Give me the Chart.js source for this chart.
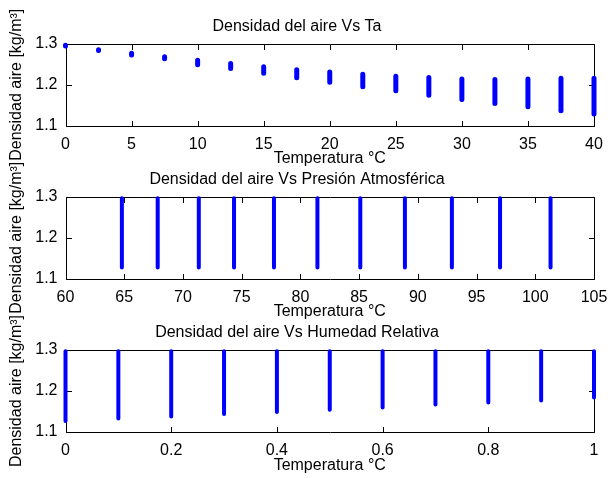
<!DOCTYPE html>
<html>
<head>
<meta charset="utf-8">
<title>Densidad del aire</title>
<script src="https://cdn.jsdelivr.net/npm/chart.js@4.4.1/dist/chart.umd.min.js"></script>
<style>
  body { margin: 0; background: #fff; }
  #wrap { position: relative; width: 610px; height: 478px; }
  #wrap canvas { position: absolute; left: 0; top: 0; }
</style>
</head>
<body>
<div id="wrap">
  <canvas id="panelTa" width="610" height="478"></canvas>
  <canvas id="panelPres" width="610" height="478"></canvas>
  <canvas id="panelHum" width="610" height="478"></canvas>
</div>
<script>
// Panel 1: density vs air temperature (min / max of each cluster)
const tempC = [0, 2.5, 5, 7.5, 10, 12.5, 15, 17.5, 20, 22.5, 25, 27.5, 30, 32.5, 35, 37.5, 40];
const tempLow = [1.295, 1.284, 1.273, 1.264, 1.249, 1.240, 1.228, 1.217, 1.206, 1.195, 1.185, 1.174, 1.164, 1.154, 1.146, 1.136, 1.128];
const tempHigh = [1.297, 1.286, 1.277, 1.269, 1.260, 1.252, 1.244, 1.237, 1.231, 1.226, 1.221, 1.218, 1.214, 1.213, 1.214, 1.216, 1.216];

// Panel 2: density vs atmospheric pressure
const presion = [64.8, 67.85, 71.35, 74.35, 77.75, 81.45, 85.1, 88.9, 92.9, 97.0, 101.3];
const presLow = [1.127, 1.127, 1.127, 1.127, 1.127, 1.127, 1.127, 1.127, 1.127, 1.127, 1.127];
const presHigh = [1.297, 1.297, 1.297, 1.297, 1.297, 1.297, 1.297, 1.297, 1.297, 1.297, 1.297];

// Panel 3: density vs relative humidity
const humedad = [0, 0.1, 0.2, 0.3, 0.4, 0.5, 0.6, 0.7, 0.8, 0.9, 1];
const humLow = [1.127, 1.133, 1.138, 1.144, 1.149, 1.154, 1.160, 1.167, 1.172, 1.177, 1.184];
const humHigh = [1.297, 1.297, 1.297, 1.297, 1.297, 1.297, 1.297, 1.297, 1.297, 1.297, 1.297];

// shared text
const yTitle = "Densidad aire [kg/m³]";
const xTitle = "Temperatura °C";
const FONT = "'Liberation Sans', Arial, sans-serif";
const FS = 16;

Chart.defaults.color = "#000";
Chart.defaults.font.family = FONT;
Chart.defaults.font.size = FS;

/**
 * Each cluster becomes one vertical segment; null breaks the line between clusters.
 */
function streaks(xs, lo, hi) {
  const pts = [];
  xs.forEach((x, i) => {
    pts.push({ x: x, y: lo[i] });
    pts.push({ x: x, y: hi[i] });
    pts.push({ x: x, y: null });
  });
  return pts;
}

function trimNum(v) {
  return String(Number(Number(v).toFixed(2)));
}

// Box frame + inward ticks on all four sides (matlab style)
const frameTicks = {
  id: "frameTicks",
  beforeDatasetsDraw(chart) {
    const { ctx, chartArea: a, scales } = chart;
    const L = Math.round(a.left) + 0.5;
    const R = Math.round(a.right) + 0.5;
    const T = Math.round(a.top) + 0.5;
    const B = Math.round(a.bottom) + 0.5;
    const len = 5.5;

    ctx.save();
    ctx.strokeStyle = "#000";
    ctx.lineWidth = 1;
    ctx.beginPath();
    ctx.rect(L, T, R - L, B - T);

    scales.x.ticks.forEach((t) => {
      const px = Math.round(scales.x.getPixelForValue(t.value)) + 0.5;
      ctx.moveTo(px, B);
      ctx.lineTo(px, B - len);
      ctx.moveTo(px, T);
      ctx.lineTo(px, T + len);
    });
    scales.y.ticks.forEach((t) => {
      const py = Math.round(scales.y.getPixelForValue(t.value)) + 0.5;
      ctx.moveTo(L, py);
      ctx.lineTo(L + len, py);
      ctx.moveTo(R, py);
      ctx.lineTo(R - len, py);
    });
    ctx.stroke();
    ctx.restore();
  },
};

/**
 * One subplot drawn on a full size canvas; padding puts the plot box in place.
 */
function makePanel(id, cfg) {
  const ctx = document.getElementById(id).getContext("2d");
  const top = cfg.top;
  const bottom = cfg.bottom;
  const titleGap = 7.5;

  return new Chart(ctx, {
    type: "line",
    data: {
      datasets: [
        {
          data: streaks(cfg.xs, cfg.lo, cfg.hi),
          borderColor: "#0000ff",
          backgroundColor: "#0000ff",
          borderWidth: cfg.width,
          borderCapStyle: "round",
          pointRadius: 0,
          spanGaps: false,
          tension: 0,
          clip: false,
        },
      ],
    },
    options: {
      responsive: false,
      animation: false,
      events: [],
      layout: {
        padding: {
          top: top - FS * 1.2 - titleGap,
          bottom: 478 - bottom - 43,
          left: 0,
          right: 16,
        },
      },
      plugins: {
        legend: { display: false },
        tooltip: { enabled: false },
        title: {
          display: true,
          text: cfg.title,
          color: "#000",
          font: { size: FS, weight: "normal" },
          padding: { top: 0, bottom: titleGap },
        },
      },
      scales: {
        x: {
          type: "linear",
          min: cfg.xMin,
          max: cfg.xMax,
          grid: { display: false, drawTicks: false },
          border: { display: false },
          ticks: {
            stepSize: cfg.xStep,
            padding: 9,
            maxRotation: 0,
            autoSkip: false,
            callback: (v) => trimNum(v),
          },
          title: { display: true, text: xTitle, padding: { top: 0, bottom: 0 } },
          afterFit: (s) => {
            s.height = 43;
            s.paddingLeft = 0;
            s.paddingRight = 0;
          },
        },
        y: {
          min: 1.1,
          max: 1.3,
          grid: { display: false, drawTicks: false },
          border: { display: false },
          ticks: {
            stepSize: 0.1,
            padding: 8,
            callback: (v) => Number(v).toFixed(1),
          },
          title: { display: true, text: yTitle, padding: { top: 7, bottom: 0 } },
          afterFit: (s) => {
            s.width = 65.5;
            s.paddingTop = 0;
            s.paddingBottom = 0;
          },
        },
      },
    },
    plugins: [frameTicks],
  });
}

makePanel("panelTa", {
  title: "Densidad del aire Vs Ta",
  xs: tempC, lo: tempLow, hi: tempHigh,
  xMin: 0, xMax: 40, xStep: 5,
  top: 44, bottom: 125.5, width: 5,
});

makePanel("panelPres", {
  title: "Densidad del aire Vs Presión Atmosférica",
  xs: presion, lo: presLow, hi: presHigh,
  xMin: 60, xMax: 105, xStep: 5,
  top: 197, bottom: 278.5, width: 4,
});

makePanel("panelHum", {
  title: "Densidad del aire Vs Humedad Relativa",
  xs: humedad, lo: humLow, hi: humHigh,
  xMin: 0, xMax: 1, xStep: 0.2,
  top: 350, bottom: 432, width: 4,
});
</script>
</body>
</html>
